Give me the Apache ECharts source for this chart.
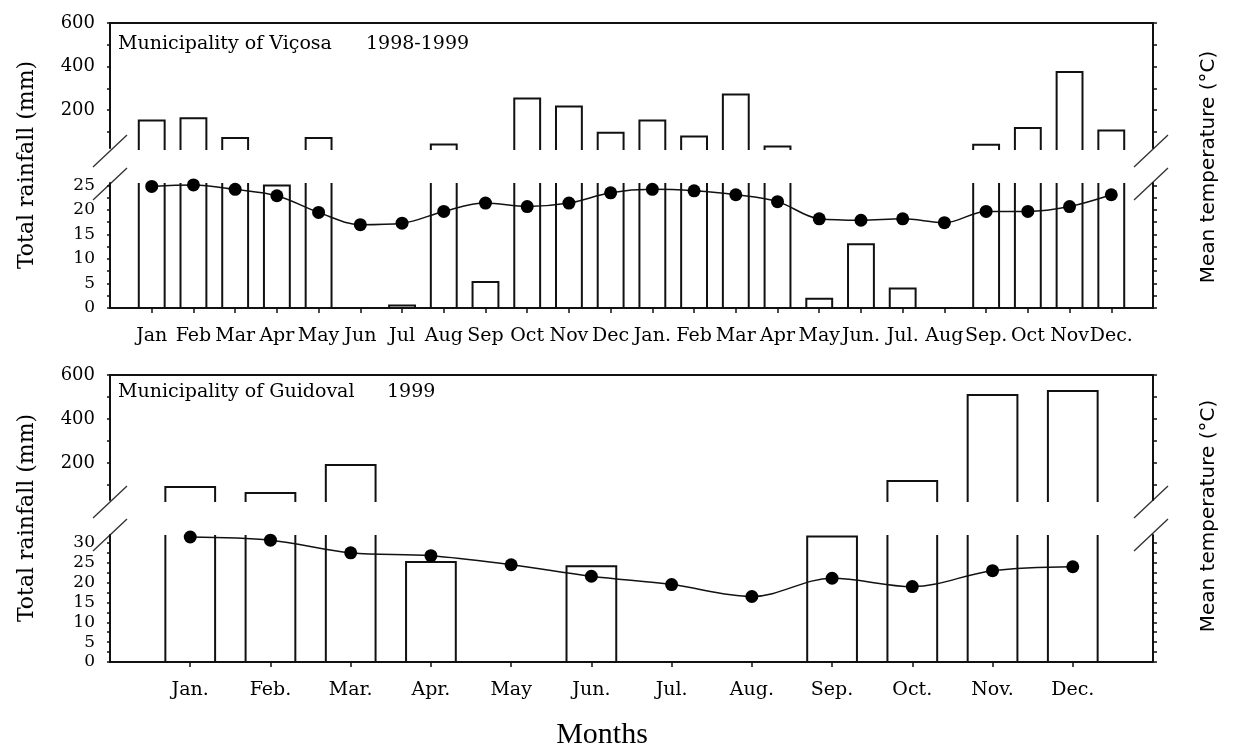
<!DOCTYPE html>
<html>
<head>
<meta charset="utf-8">
<script src="https://cdn.jsdelivr.net/npm/echarts@6/dist/echarts.min.js"></script>
<style>
  html, body { margin: 0; padding: 0; background: #fff; }
  #chart { width: 1233px; height: 751px; }
</style>
</head>
<body>
<div id="chart"></div>
<script>
  // --- data ---
  const monthsVicosa = ['Jan', 'Feb', 'Mar', 'Apr', 'May', 'Jun', 'Jul', 'Aug', 'Sep', 'Oct', 'Nov', 'Dec',
    'Jan.', 'Feb', 'Mar', 'Apr', 'May', 'Jun.', 'Jul.', 'Aug', 'Sep.', 'Oct', 'Nov', 'Dec.']
  const rainVicosa = [152, 162, 71, 25, 71, 0, 0.5, 42, 5.3, 253, 216, 96,
    152, 78, 271, 32, 1.9, 13, 4, 0, 41, 117, 375, 106]
  const tempVicosa = [24.8, 25.1, 24.2, 22.9, 19.5, 17.0, 17.3, 19.7, 21.4, 20.7, 21.4, 23.5,
    24.2, 23.9, 23.1, 21.7, 18.2, 17.9, 18.2, 17.4, 19.7, 19.7, 20.7, 23.1]

  const monthsGuidoval = ['Jan.', 'Feb.', 'Mar.', 'Apr.', 'May', 'Jun.', 'Jul.', 'Aug.', 'Sep.', 'Oct.', 'Nov.', 'Dec.']
  const rainGuidoval = [91, 64, 191, 25.2, 0, 24.1, 0, 0, 31.6, 118, 509, 527]
  const tempGuidoval = [31.5, 30.7, 27.5, 26.8, 24.5, 21.6, 19.5, 16.5, 21.1, 19.0, 23.0, 24.0]

  const upperTicks = [100, 200, 300, 400, 500, 600]
  const upperLabels = [200, 400, 600]
  const lowerLabelsVicosa = [0, 5, 10, 15, 20, 25]
  const lowerTicksVicosa = [0, 2.5, 5, 7.5, 10, 12.5, 15, 17.5, 20, 22.5, 25]
  const lowerLabelsGuidoval = [0, 5, 10, 15, 20, 25, 30]
  const lowerTicksGuidoval = [0, 2.5, 5, 7.5, 10, 12.5, 15, 17.5, 20, 22.5, 25, 27.5, 30]

  const SERIF = '"DejaVu Serif", serif'
  const TIMES = '"Liberation Serif", "Times New Roman", serif'
  const SANS = '"DejaVu Sans", Arial, sans-serif'
  const INK = '#111'

  const chart = echarts.init(document.getElementById('chart'))

  // bar outline drawn as an open polyline so the broken axis looks like the original
  function barRender(part) {
    return function (params, api) {
      const x = api.value(0)
      const v = api.value(1)
      if (!(v > 0)) return null
      const cs = params.coordSys
      const w = api.size([1, 0])[0] * 0.62
      const pt = api.coord([x, v])
      const l = pt[0] - w / 2
      const r = pt[0] + w / 2
      const y = pt[1]
      const bottom = cs.y + cs.height
      const top = cs.y
      const style = {fill: null, stroke: INK, lineWidth: 2}
      if (part === 'upper') {
        if (y >= bottom) return null
        return {type: 'polyline', shape: {points: [[l, bottom + 2], [l, y], [r, y], [r, bottom + 2]]}, style: style}
      }
      if (y <= top) {
        return {
          type: 'group',
          children: [
            {type: 'line', shape: {x1: l, y1: bottom, x2: l, y2: top}, style: style},
            {type: 'line', shape: {x1: r, y1: bottom, x2: r, y2: top}, style: style}
          ]
        }
      }
      return {type: 'polyline', shape: {points: [[l, bottom], [l, y], [r, y], [r, bottom]]}, style: style}
    }
  }

  const axisLine = {show: true, onZero: false, lineStyle: {color: INK, width: 2}}

  function xAxisTop(grid, min, max) {
    return {
      type: 'value', gridIndex: grid, position: 'top', min: min, max: max,
      axisLine: axisLine, axisTick: {show: false}, axisLabel: {show: false}, splitLine: {show: false}
    }
  }

  function xAxisBottom(grid, min, max, names) {
    const idx = names.map((n, i) => i)
    return {
      type: 'value', gridIndex: grid, position: 'bottom', min: min, max: max,
      axisLine: axisLine,
      axisTick: {show: true, customValues: idx, length: 5, lineStyle: {color: INK, width: 1.5}},
      axisLabel: {
        customValues: idx, margin: 19, color: '#000',
        fontFamily: SERIF, fontSize: 19,
        formatter: (val) => names[Math.round(val)]
      },
      splitLine: {show: false}
    }
  }

  function yAxisLeft(grid, min, max, ticks, labels, fontSize) {
    return {
      type: 'value', gridIndex: grid, position: 'left', min: min, max: max,
      axisLine: axisLine,
      axisTick: {show: true, customValues: ticks, length: 3, lineStyle: {color: INK, width: 1.5}},
      axisLabel: {customValues: labels, margin: 15, color: '#000', fontFamily: SERIF, fontSize: fontSize},
      splitLine: {show: false}
    }
  }

  function yAxisRight(grid, min, max, ticks) {
    return {
      type: 'value', gridIndex: grid, position: 'right', min: min, max: max,
      axisLine: axisLine,
      axisTick: {show: true, customValues: ticks, length: 4, lineStyle: {color: INK, width: 1.5}},
      axisLabel: {show: false},
      splitLine: {show: false}
    }
  }

  function tempSeries(xi, yi, data) {
    return {
      type: 'line', xAxisIndex: xi, yAxisIndex: yi,
      data: data.map((t, i) => [i, t]),
      smooth: 0.35, symbol: 'circle', symbolSize: 13,
      itemStyle: {color: '#000'}, lineStyle: {color: INK, width: 1.5},
      z: 5, animation: false
    }
  }

  function breakMarks(xs, y1, y2) {
    const out = []
    xs.forEach(function (x0) {
      [y1, y2].forEach(function (yy) {
        out.push({
          type: 'line', silent: true,
          shape: {x1: x0, y1: yy + 16, x2: x0 + 34, y2: yy - 16},
          style: {stroke: '#333', lineWidth: 1.3}
        })
      })
    })
    return out
  }

  function vText(text, x, y, font) {
    return {
      type: 'text', x: x, y: y, rotation: Math.PI / 2, silent: true,
      style: {text: text, font: font, fill: '#000', align: 'center', verticalAlign: 'middle'}
    }
  }

  function hText(text, x, y, font, align) {
    return {
      type: 'text', x: x, y: y, silent: true,
      style: {text: text, font: font, fill: '#000', align: align || 'left', verticalAlign: 'middle'}
    }
  }

  chart.setOption({
    animation: false,
    backgroundColor: '#fff',
    grid: [
      {left: 110, right: 80, top: 23, height: 125},
      {left: 110, right: 80, top: 183, height: 125},
      {left: 110, right: 80, top: 375, height: 125},
      {left: 110, right: 80, top: 535, height: 127}
    ],
    xAxis: [
      xAxisTop(0, -1, 24),
      xAxisBottom(1, -1, 24, monthsVicosa),
      xAxisTop(2, -1, 12),
      xAxisBottom(3, -1, 12, monthsGuidoval)
    ],
    yAxis: [
      yAxisLeft(0, 25.5, 600, upperTicks, upperLabels, 18),
      yAxisRight(0, 25.5, 600, upperTicks),
      yAxisLeft(1, 0, 25.5, lowerTicksVicosa, lowerLabelsVicosa, 17),
      yAxisRight(1, 0, 25.5, lowerTicksVicosa),
      yAxisLeft(2, 32, 600, upperTicks, upperLabels, 18),
      yAxisRight(2, 32, 600, upperTicks),
      yAxisLeft(3, 0, 32, lowerTicksGuidoval, lowerLabelsGuidoval, 17),
      yAxisRight(3, 0, 32, lowerTicksGuidoval)
    ],
    series: [
      {type: 'custom', xAxisIndex: 0, yAxisIndex: 0, renderItem: barRender('upper'),
        data: rainVicosa.map((v, i) => [i, v])},
      {type: 'custom', xAxisIndex: 1, yAxisIndex: 2, renderItem: barRender('lower'),
        data: rainVicosa.map((v, i) => [i, v])},
      tempSeries(1, 2, tempVicosa),
      {type: 'custom', xAxisIndex: 2, yAxisIndex: 4, renderItem: barRender('upper'),
        data: rainGuidoval.map((v, i) => [i, v])},
      {type: 'custom', xAxisIndex: 3, yAxisIndex: 6, renderItem: barRender('lower'),
        data: rainGuidoval.map((v, i) => [i, v])},
      tempSeries(3, 6, tempGuidoval)
    ],
    graphic: [].concat(
      breakMarks([93, 1134], 151, 184),
      breakMarks([93, 1134], 502, 535),
      [
        vText('Total rainfall (mm)', 27, 165, '22px ' + SERIF),
        vText('Total rainfall (mm)', 27, 518, '22px ' + SERIF),
        vText('Mean temperature (°C)', 1209, 167, '20px ' + SANS),
        vText('Mean temperature (°C)', 1209, 516, '20px ' + SANS),
        hText('Municipality of Viçosa', 118, 44, '19px ' + SERIF),
        hText('1998-1999', 366, 44, '19px ' + SERIF),
        hText('Municipality of Guidoval', 118, 392, '19px ' + SERIF),
        hText('1999', 387, 392, '19px ' + SERIF),
        hText('Months', 602, 735, '30px ' + TIMES, 'center')
      ]
    )
  })
</script>
</body>
</html>
